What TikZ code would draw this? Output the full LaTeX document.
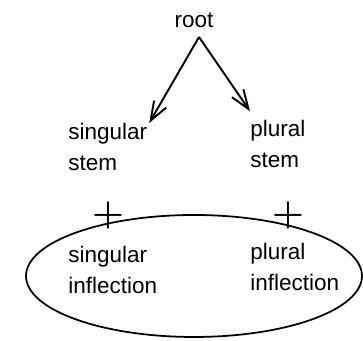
\documentclass[tikz,border=0pt]{standalone}
\usepackage{fontspec}
\setmainfont{Liberation Sans}
\usetikzlibrary{arrows.meta,positioning,calc}
\tikzset{
  txt/.style={font=\fontsize{12.8}{17.4}\selectfont,align=left,inner sep=0pt,anchor=north west},
  flecha/.style={-{Straight Barb[length=3.8mm,width=2.8mm]},line width=1.1pt},
  mas/.style={font=\fontsize{21}{21}\selectfont\boldmath,inner sep=0pt},
}
\begin{document}
\begin{tikzpicture}
    \useasboundingbox (0,0) rectangle (7.26,6.82);
    \node[font=\fontsize{12.8}{17.4}\selectfont,inner sep=0pt,anchor=base] (raiz) at (3.88,6.26) {root};
    \coordinate (cima) at (3.98,6.08);
    \node[txt] (sgtema) at (1.36,4.36) {singular\\stem};
    \node[txt] (pltema) at (5.00,4.42) {plural\\stem};
    \draw[flecha] (cima) -- ([xshift=1pt,yshift=0pt]sgtema.north east);
    \draw[flecha] (cima) -- ([yshift=5pt]pltema.north west);
    \draw[line width=1pt] (3.88,1.30) ellipse (3.36cm and 1.22cm);
    \node[mas] (sgmas) at (2.16,2.52) {$+$};
    \node[mas] (plmas) at (5.76,2.52) {$+$};
    \node[txt] (sgflex) at (1.36,1.90) {singular\\inflection};
    \node[txt] (plflex) at (5.00,1.96) {plural\\inflection};
  \end{tikzpicture}
\end{document}
